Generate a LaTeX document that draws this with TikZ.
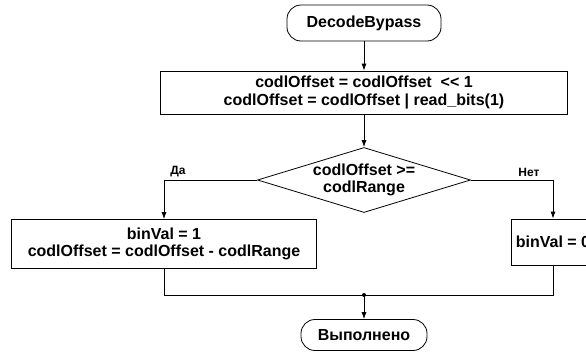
\documentclass[tikz,border=0pt]{standalone}
\usepackage{fontspec}
\setmainfont{Liberation Sans}
\usetikzlibrary{shapes.geometric,arrows.meta}

\tikzset{
    terminal/.style={draw, rounded corners=14pt, inner sep=0pt, align=center,
        font=\fontsize{16}{18}\selectfont\bfseries},
    process/.style={draw, inner sep=0pt, align=center,
        font=\fontsize{16}{17.5}\selectfont\bfseries},
    decision/.style={draw, diamond, aspect=3.28, inner sep=0pt, align=center,
        minimum width=213pt, minimum height=65pt,
        font=\fontsize{16}{17.5}\selectfont\bfseries},
    branch/.style={inner sep=0pt, font=\fontsize{12}{14}\selectfont\bfseries},
    flow/.style={-{Latex[length=7pt,width=5pt]}},
}

\begin{document}
\begin{tikzpicture}[x=1pt, y=-1pt, line width=0.8pt]
    \clip (0,0) rectangle (586,351);
    \node[terminal, minimum width=154pt, minimum height=36pt] (start) at (364,23) {DecodeBypass};
    \node[process, minimum width=407pt, minimum height=43pt] (shift) at (364,92.5)
        {codlOffset = codlOffset \ <\kern0pt< 1\\codlOffset = codlOffset | read\_bits(1)};
    \node[decision] (cmp) at (364,180) {codlOffset >=\\codlRange};
    \node[process, minimum width=305pt, minimum height=49pt] (one) at (164,244)
        {binVal = 1\\codlOffset = codlOffset - codlRange};
    \node[process, minimum width=84pt, minimum height=46pt] (zero) at (553,242) {binVal = 0};
    \node[terminal, minimum width=126pt, minimum height=31pt] (done) at (364,335) {Выполнено};
    \node[branch, anchor=south west] (yes) at (170,177.5) {Да};
    \node[branch, anchor=south west] (no) at (518,177.5) {Нет};
    \coordinate (merge) at (364,295);

    \draw[flow] (start) -- (shift);
    \draw[flow] (shift) -- (cmp);
    \draw[flow] (cmp.west) -| (one.north);
    \draw[flow] (cmp.east) -| (zero.north);
    \draw (one.south) |- (merge);
    \draw (zero.south) |- (merge);
    \fill (merge) circle (2pt);
    \draw[flow] (merge) -- (done);
\end{tikzpicture}
\end{document}
